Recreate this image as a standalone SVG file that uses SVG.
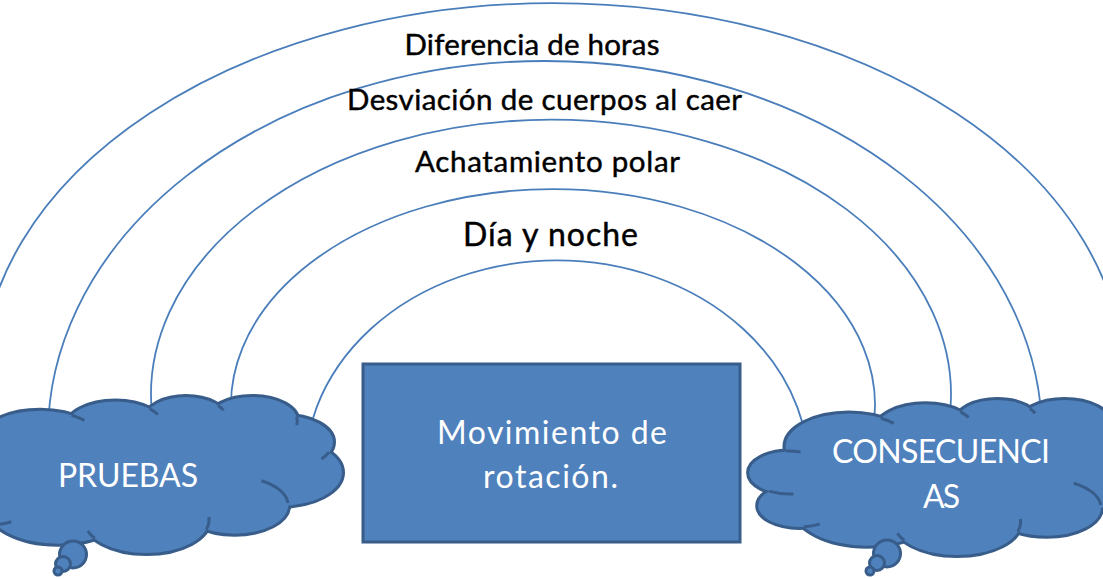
<svg xmlns="http://www.w3.org/2000/svg" width="1103" height="579" viewBox="0 0 1103 579">
<style>
.arc{fill:none;stroke:#4A7EBB;stroke-width:1.8}
.lbl{font-family:Lato,"Liberation Sans",sans-serif;fill:#000;stroke:#000;stroke-width:0.45;text-anchor:middle}
.wt{font-family:Lato,"Liberation Sans",sans-serif;fill:#fff;text-anchor:middle;font-size:32px}
.cs ellipse{fill:#4F81BD;stroke:#385D8A;stroke-width:6}
.cf ellipse,.cf polygon{fill:#4F81BD;stroke:none}
.hk{fill:none;stroke:#385D8A;stroke-width:3}
.bub{fill:#4F81BD;stroke:#385D8A;stroke-width:3}
</style>
<rect width="1103" height="579" fill="#fff"/>
<g id="connectors">
<path class="arc" d="M -18 380 A 571 377 0 0 1 1124 380"/>
<path class="arc" d="M 48.4 450 A 497 374 0 1 1 1041.6 450"/>
<path class="arc" d="M 152.7 420 A 400 275 0 1 1 949.3 420"/>
<path class="arc" d="M 234.1 435 A 322 216 0 1 1 871.9 435"/>
<path class="arc" d="M 306.1 490 A 252 210 0 1 1 807.9 490"/>
</g>
<g id="labels">
<text class="lbl" x="532" y="55" font-size="29.5" textLength="255">Diferencia de horas</text>
<text class="lbl" x="544.5" y="110" font-size="29.5" textLength="395">Desviación de cuerpos al caer</text>
<text class="lbl" x="547.5" y="172" font-size="29.5" textLength="265">Achatamiento polar</text>
<text class="lbl" x="550.5" y="246" font-size="32" textLength="175">Día y noche</text>
</g>
<g id="pruebas">
<g class="cs">
<ellipse cx="40.2" cy="443.9" rx="62.5" ry="33.2"/>
<ellipse cx="115.3" cy="427.6" rx="49.3" ry="26.2"/>
<ellipse cx="186" cy="418.5" rx="40.4" ry="21.5"/>
<ellipse cx="252.4" cy="420.8" rx="44.9" ry="23.8"/>
<ellipse cx="283.7" cy="442" rx="49.3" ry="26.3"/>
<ellipse cx="279.3" cy="472.6" rx="62.7" ry="33.3"/>
<ellipse cx="234.7" cy="505.3" rx="53.5" ry="28.4"/>
<ellipse cx="146.5" cy="519.8" rx="62.5" ry="33.3"/>
<ellipse cx="57.8" cy="505.6" rx="71.4" ry="38.1"/>
<ellipse cx="-8.8" cy="503.3" rx="40.3" ry="21.4"/>
<ellipse cx="-18" cy="470.2" rx="40.2" ry="21.5"/>
</g>
<g class="cf">
<ellipse cx="40.2" cy="443.9" rx="62.5" ry="33.2"/>
<ellipse cx="115.3" cy="427.6" rx="49.3" ry="26.2"/>
<ellipse cx="186" cy="418.5" rx="40.4" ry="21.5"/>
<ellipse cx="252.4" cy="420.8" rx="44.9" ry="23.8"/>
<ellipse cx="283.7" cy="442" rx="49.3" ry="26.3"/>
<ellipse cx="279.3" cy="472.6" rx="62.7" ry="33.3"/>
<ellipse cx="234.7" cy="505.3" rx="53.5" ry="28.4"/>
<ellipse cx="146.5" cy="519.8" rx="62.5" ry="33.3"/>
<ellipse cx="57.8" cy="505.6" rx="71.4" ry="38.1"/>
<ellipse cx="-8.8" cy="503.3" rx="40.3" ry="21.4"/>
<ellipse cx="-18" cy="470.2" rx="40.2" ry="21.5"/>
<polygon points="-21.7,448.4 71.7,415.3 149.9,408.9 218.1,405.4 296.6,416.6 329,452.3 288.2,505.5 206.3,529.4 94.6,538.3 -4.1,524.6 -38.3,488.7"/>
</g>
<g class="hk">
<path d="M -21.7 448.4 A 40.2 21.5 0 0 1 -7.6 449.4"/>
<path d="M 71.7 415.3 A 62.5 33.2 0 0 1 84.4 420.4"/>
<path d="M 149.9 408.9 A 49.3 26.2 0 0 1 158 414.5"/>
<path d="M 218.1 405.4 A 40.4 21.5 0 0 1 223.5 410.4"/>
<path d="M 296.6 416.6 A 44.9 23.8 0 0 1 296.6 424.9"/>
<path d="M 329 452.3 A 49.3 26.3 0 0 1 321.5 458.9"/>
<path d="M 261.5 480.7 A 53.5 28.4 0 0 1 288 503"/>
<path d="M 208.8 516.9 A 62.5 33.3 0 0 1 206.3 529.4"/>
<path d="M 94.6 538.3 A 62.5 33.3 0 0 1 87.8 531.2"/>
<path d="M 11.4 521.8 A 40.3 21.4 0 0 1 -4.1 524.6"/>
</g>
<circle class="bub" cx="73" cy="554.5" r="13.5"/>
<circle class="bub" cx="63" cy="564" r="7.5"/>
<circle class="bub" cx="58" cy="571" r="4"/>
<text class="wt" x="128" y="487" textLength="140">PRUEBAS</text>
</g>
<g id="movimiento">
<rect x="363" y="364" width="377" height="178" fill="#4F81BD" stroke="#385D8A" stroke-width="3"/>
<text class="wt" x="552" y="444" textLength="230">Movimiento de</text>
<text class="wt" x="550.5" y="488" textLength="135">rotación.</text>
</g>
<g id="consecuencias">
<g class="cs">
<ellipse cx="849" cy="446.6" rx="63.5" ry="33"/>
<ellipse cx="925.3" cy="430.4" rx="50.1" ry="26.1"/>
<ellipse cx="997.2" cy="421.3" rx="41" ry="21.3"/>
<ellipse cx="1064.6" cy="423.7" rx="45.7" ry="23.7"/>
<ellipse cx="1096.4" cy="444.7" rx="50.1" ry="26.1"/>
<ellipse cx="1092" cy="475.1" rx="63.7" ry="33.1"/>
<ellipse cx="1046.6" cy="507.6" rx="54.4" ry="28.2"/>
<ellipse cx="957.1" cy="522" rx="63.5" ry="33.1"/>
<ellipse cx="866.9" cy="507.9" rx="72.6" ry="37.8"/>
<ellipse cx="799.2" cy="505.7" rx="41" ry="21.2"/>
<ellipse cx="789.9" cy="472.7" rx="40.8" ry="21.3"/>
</g>
<g class="cf">
<ellipse cx="849" cy="446.6" rx="63.5" ry="33"/>
<ellipse cx="925.3" cy="430.4" rx="50.1" ry="26.1"/>
<ellipse cx="997.2" cy="421.3" rx="41" ry="21.3"/>
<ellipse cx="1064.6" cy="423.7" rx="45.7" ry="23.7"/>
<ellipse cx="1096.4" cy="444.7" rx="50.1" ry="26.1"/>
<ellipse cx="1092" cy="475.1" rx="63.7" ry="33.1"/>
<ellipse cx="1046.6" cy="507.6" rx="54.4" ry="28.2"/>
<ellipse cx="957.1" cy="522" rx="63.5" ry="33.1"/>
<ellipse cx="866.9" cy="507.9" rx="72.6" ry="37.8"/>
<ellipse cx="799.2" cy="505.7" rx="41" ry="21.2"/>
<ellipse cx="789.9" cy="472.7" rx="40.8" ry="21.3"/>
<polygon points="786.1,451.1 881,418.2 960.5,411.8 1029.8,408.4 1109.6,419.5 1142.5,455 1101,507.8 1017.8,531.6 904.3,540.4 803.9,526.7 769.2,491.1"/>
</g>
<g class="hk">
<path d="M 786.1 451.1 A 40.8 21.3 0 0 1 800.5 452.1"/>
<path d="M 881 418.2 A 63.5 33 0 0 1 893.9 423.3"/>
<path d="M 960.5 411.8 A 50.1 26.1 0 0 1 968.7 417.4"/>
<path d="M 1029.8 408.4 A 41 21.3 0 0 1 1035.2 413.3"/>
<path d="M 1073.8 483.2 A 54.4 28.2 0 0 1 1100.8 505.1"/>
<path d="M 1020.4 519.1 A 63.5 33.1 0 0 1 1017.8 531.6"/>
<path d="M 904.3 540.4 A 63.5 33.1 0 0 1 897.4 533.3"/>
<path d="M 819.7 524.1 A 41 21.2 0 0 1 803.9 526.7"/>
<path d="M 793.5 493.9 A 40.8 21.3 0 0 1 769.2 491.1"/>
</g>
<circle class="bub" cx="887" cy="553.5" r="13.5"/>
<circle class="bub" cx="877" cy="563" r="7.5"/>
<circle class="bub" cx="870" cy="571" r="4"/>
<text class="wt" x="941" y="463" textLength="218">CONSECUENCI</text>
<text class="wt" x="941.5" y="508" textLength="37">AS</text>
</g>
</svg>
